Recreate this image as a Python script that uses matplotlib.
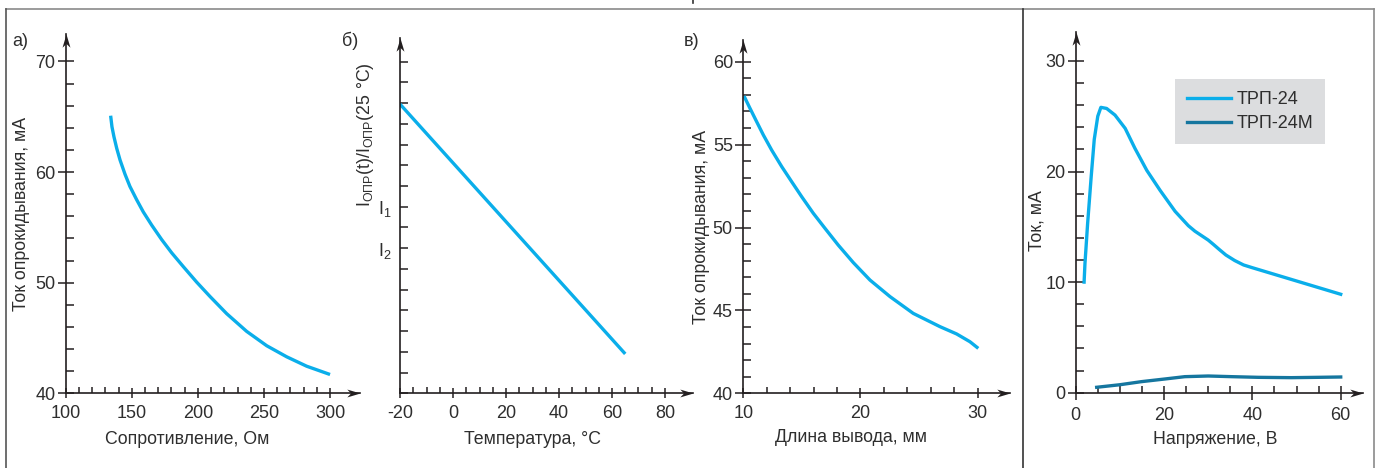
import matplotlib
matplotlib.use("Agg")
import matplotlib.pyplot as plt
from matplotlib.lines import Line2D
from matplotlib.path import Path
import numpy as np

# ---------------- data ----------------
a_resistance = [134, 135, 136.5, 138.6, 141.1, 144.9, 148.6, 153.7, 158.7, 165.1, 172.6,
                180.2, 189, 199.1, 209.2, 221.8, 236.9, 252.1, 267.2, 282.3, 300]
a_current = [65.1, 64.1, 63.2, 62.15, 61.1, 59.8, 58.7, 57.5, 56.4, 55.2, 53.9,
             52.7, 51.45, 50.05, 48.75, 47.2, 45.6, 44.3, 43.3, 42.45, 41.7]
a_xticks = [100, 150, 200, 250, 300]
a_yticks = [40, 50, 60, 70]

b_temperature = [-20, 65]
b_ratio = [13.95, 1.9]
b_xticks = [-20, 0, 20, 40, 60, 80]
b_xticklabels = ["-20", "0", "20", "40", "60", "80"]
b_ylabel_ticks = [7, 9]
b_ylabel_texts = [r"$\mathregular{I_2}$", r"$\mathregular{I_1}$"]

c_length = [10.06, 10.57, 11.14, 11.71, 12.42, 13.28, 14.13, 14.98, 15.97, 16.97, 18.1,
            19.39, 20.81, 22.52, 24.5, 26.78, 28.2, 29.34, 30.05]
c_current = [57.93, 57.19, 56.38, 55.58, 54.67, 53.67, 52.76, 51.86, 50.86, 49.95, 48.94,
             47.88, 46.83, 45.83, 44.82, 44.02, 43.58, 43.11, 42.71]
c_xticks = [10, 20, 30]
c_yticks = [40, 45, 50, 55, 60]

d_voltage_24 = [1.9, 2.1, 2.7, 3.5, 4.2, 5.0, 5.7, 7.0, 8.9, 11.2, 13.4, 16.1, 19.1,
                22.5, 25.5, 27.0, 28.5, 30.0, 31.2, 32.5, 34.0, 36.0, 38.0, 40.0,
                45.0, 50.0, 55.0, 60.0]
d_current_24 = [10.0, 11.7, 15.3, 19.5, 22.9, 25.0, 25.8, 25.7, 25.1, 23.9, 22.1, 20.1, 18.3,
                16.4, 15.1, 14.6, 14.2, 13.8, 13.4, 12.95, 12.45, 11.95, 11.55, 11.3,
                10.7, 10.1, 9.5, 8.9]
d_voltage_24m = [4.75, 10, 14.9, 20.2, 24.7, 30, 35.3, 41.3, 48.8, 54.9, 60]
d_current_24m = [0.49, 0.72, 1.0, 1.24, 1.45, 1.51, 1.45, 1.39, 1.36, 1.39, 1.42]
d_xticks = [0, 20, 40, 60]
d_yticks = [0, 10, 20, 30]
d_labels = ["ТРП-24", "ТРП-24М"]

# ---------------- style ----------------
plt.rcParams['font.family'] = ['Liberation Sans Narrow', 'Liberation Sans', 'DejaVu Sans']
TXT = '#2e2e2e'
AX = '#231f20'
LIGHT = '#0aaeea'
DARK = '#15769f'
FS_TICK = 13
FS_LAB = 12.8

W, H = 1379, 468
fig = plt.figure(figsize=(W / 100, H / 100), dpi=100)


def add_axes(left, top, right, bottom):
    return fig.add_axes([left / W, 1 - bottom / H, (right - left) / W, (bottom - top) / H])


arrow_r = Path([(0, 0), (-1, 0.3), (-0.72, 0), (-1, -0.3), (0, 0)],
               [Path.MOVETO, Path.LINETO, Path.LINETO, Path.LINETO, Path.CLOSEPOLY])
arrow_u = Path([(0, 0), (0.3, -1), (0, -0.72), (-0.3, -1), (0, 0)],
               [Path.MOVETO, Path.LINETO, Path.LINETO, Path.LINETO, Path.CLOSEPOLY])


def style(ax, xlim, ylim):
    ax.set_xlim(xlim)
    ax.set_ylim(ylim)
    ax.patch.set_alpha(0)
    for s in ['top', 'right']:
        ax.spines[s].set_visible(False)
    for s in ['left', 'bottom']:
        ax.spines[s].set_linewidth(1.2)
        ax.spines[s].set_color(AX)
    ax.plot([1], [0], marker=arrow_r, ms=19, color=AX, mew=0,
            transform=ax.transAxes, clip_on=False)
    ax.plot([0], [1], marker=arrow_u, ms=19, color=AX, mew=0,
            transform=ax.transAxes, clip_on=False)
    ax.tick_params(which='both', width=1.1, color=AX, labelsize=FS_TICK, labelcolor=TXT)
    ax.tick_params(axis='y', which='major', direction='inout', length=11, pad=2)
    ax.tick_params(axis='y', which='minor', direction='in', length=5.5)
    ax.tick_params(axis='x', which='major', direction='inout', length=7, pad=5)
    ax.tick_params(axis='x', which='minor', direction='in', length=4)


def place_labels(ax, box, xl, yl):
    left, top, right, bottom = box
    ax.xaxis.set_label_coords((xl[0] - left) / (right - left), (bottom - xl[1]) / (bottom - top))
    ax.yaxis.set_label_coords((yl[0] - left) / (right - left), (bottom - yl[1]) / (bottom - top))
    for lbl in (ax.xaxis.label, ax.yaxis.label):
        lbl.set_va('center')
        lbl.set_ha('center')
        lbl.set_rotation_mode('default')
        lbl.set_color(TXT)
        lbl.set_fontsize(FS_LAB)


# ---------------- panel a ----------------
box_a = (65.7, 34, 360, 393.3)
ax_a = add_axes(*box_a)
style(ax_a, (100, 100 + (360 - 65.7) / 1.3217), (40, 40 + (393.3 - 34) / 11.06))
ax_a.plot(a_resistance, a_current, color=LIGHT, lw=2.4, solid_capstyle='butt')
ax_a.set_xticks(a_xticks)
ax_a.set_xticks(np.arange(100, 301, 10), minor=True)
ax_a.set_yticks(a_yticks)
ax_a.set_yticks(np.arange(40, 71, 2), minor=True)
ax_a.set_xlabel("Сопротивление, Ом")
ax_a.set_ylabel("Ток опрокидывания, мА")
place_labels(ax_a, box_a, (187, 439), (22, 214))

# ---------------- panel b ----------------
box_b = (400, 38, 693, 393.3)
ax_b = add_axes(*box_b)
style(ax_b, (-20, -20 + (693 - 400) / 2.65), (0, (393.3 - 38) / 20.73))
ax_b.plot(b_temperature, b_ratio, color=LIGHT, lw=2.4, solid_capstyle='butt')
ax_b.set_xticks(b_xticks, labels=b_xticklabels)
ax_b.set_xticks(np.arange(-20, 81, 5), minor=True)
ax_b.set_yticks(b_ylabel_ticks, labels=b_ylabel_texts)
ax_b.set_yticks(np.arange(0, 17, 1), minor=True)
ax_b.tick_params(axis='y', which='major', direction='in', length=5.5, pad=6, labelsize=13)
ax_b.set_xlabel("Температура, °C")
ax_b.set_ylabel(r"$\mathregular{I_{ОПР}(t)/I_{ОПР}(25\ °C)}$")
place_labels(ax_b, box_b, (533, 439), (365, 135))

# ---------------- panel c ----------------
box_c = (743.3, 40, 1010, 393.3)
ax_c = add_axes(*box_c)
style(ax_c, (10, 10 + (1010 - 743.3) / 11.72), (40, 40 + (393.3 - 40) / 16.58))
ax_c.plot(c_length, c_current, color=LIGHT, lw=2.4, solid_capstyle='butt')
ax_c.set_xticks(c_xticks)
ax_c.set_xticks(np.arange(10, 31, 2), minor=True)
ax_c.set_yticks(c_yticks)
ax_c.set_yticks(np.arange(40, 61, 1), minor=True)
ax_c.set_xlabel("Длина вывода, мм")
ax_c.set_ylabel("Ток опрокидывания, мА")
place_labels(ax_c, box_c, (851, 437), (702, 227))

# ---------------- panel d ----------------
box_d = (1075.7, 32, 1363, 392.7)
ax_d = add_axes(*box_d)
style(ax_d, (0, (1363 - 1075.7) / 4.417), (0, (392.7 - 32) / 11.06))
ax_d.plot(d_voltage_24, d_current_24, color=LIGHT, lw=2.4, label=d_labels[0])
ax_d.plot(d_voltage_24m, d_current_24m, color=DARK, lw=2.4, label=d_labels[1])
ax_d.set_xticks(d_xticks)
ax_d.set_xticks(np.arange(0, 61, 5), minor=True)
ax_d.set_yticks(d_yticks)
ax_d.set_yticks(np.arange(0, 31, 2), minor=True)
ax_d.tick_params(axis='x', which='minor', length=5)
ax_d.tick_params(axis='x', which='major', length=10)
ax_d.set_xlabel("Напряжение, В")
ax_d.set_ylabel("Ток, мА")
place_labels(ax_d, box_d, (1215, 440), (1037, 221))
leg = ax_d.legend(loc='upper left', bbox_to_anchor=(1175 / W, 1 - 79.3 / H),
                  bbox_transform=fig.transFigure, borderaxespad=0, frameon=True,
                  fancybox=False, facecolor='#dcdddf', edgecolor='none', framealpha=1,
                  fontsize=13, handlelength=2.45, handletextpad=0.3, borderpad=0.66,
                  labelspacing=0.38)
for t in leg.get_texts():
    t.set_color(TXT)

# ---------------- panel letters ----------------
fig.text(20 / W, 1 - 41 / H, "а)", ha='center', va='center', fontsize=13, color=TXT)
fig.text(350 / W, 1 - 41 / H, "б)", ha='center', va='center', fontsize=13, color=TXT)
fig.text(692 / W, 1 - 42 / H, "в)", ha='center', va='center', fontsize=13, color=TXT)

# ---------------- frame lines ----------------
def fline(xs, ys, color, lw):
    fig.add_artist(Line2D([x / W for x in xs], [1 - y / H for y in ys],
                          color=color, lw=lw, transform=fig.transFigure))

fline([6, 1374], [9, 9], '#8a8a8a', 1.2)
fline([6, 6], [9, 468], '#555555', 1.2)
fline([1023, 1023], [9, 468], '#333333', 1.2)
fline([1374, 1374], [9, 468], '#8a8a8a', 1.2)
fline([693, 693], [0, 3], '#333333', 1.2)

fig.savefig("out.png", dpi=100)
